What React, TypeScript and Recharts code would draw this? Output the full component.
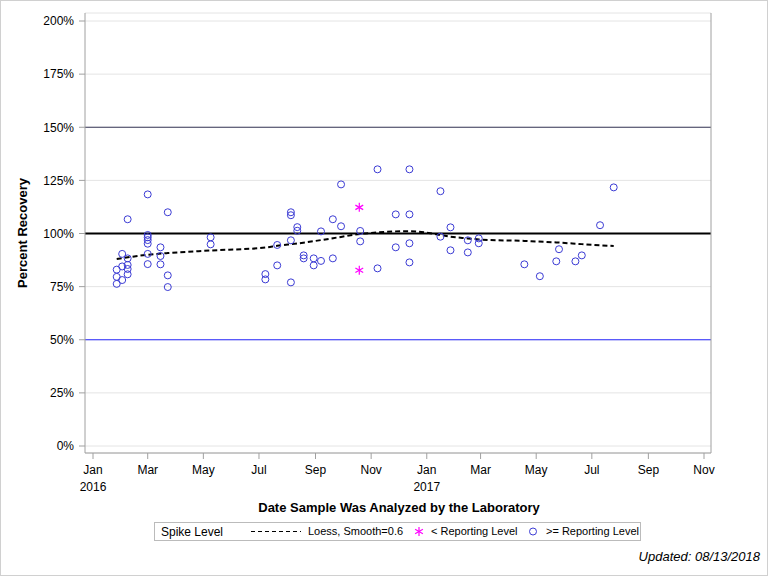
import {
  ComposedChart,
  Scatter,
  Line,
  XAxis,
  YAxis,
  CartesianGrid,
  ReferenceLine,
} from 'recharts';

const FONT = '"Liberation Sans", Arial, sans-serif';
const DAY_MS = 86400000;
const ORIGIN = Date.UTC(2016, 0, 1);

// days since 2016-01-01
const toDay = (iso: string) => (Date.parse(iso) - ORIGIN) / DAY_MS;

const tickDates = [
  '2016-01-01', '2016-03-01', '2016-05-01', '2016-07-01', '2016-09-01', '2016-11-01',
  '2017-01-01', '2017-03-01', '2017-05-01', '2017-07-01', '2017-09-01', '2017-11-01',
];
const monthLabels = ['Jan', 'Mar', 'May', 'Jul', 'Sep', 'Nov', 'Jan', 'Mar', 'May', 'Jul', 'Sep', 'Nov'];
const yearLabels = ['2016', '', '', '', '', '', '2017', '', '', '', '', ''];
const recoveryTicks = [0, 25, 50, 75, 100, 125, 150, 175, 200];

// >= reporting level samples
const aboveDates = [
  '2016-01-27', '2016-01-27', '2016-01-27',
  '2016-02-02', '2016-02-02', '2016-02-02',
  '2016-02-08', '2016-02-08', '2016-02-08', '2016-02-08', '2016-02-08',
  '2016-03-01', '2016-03-01', '2016-03-01', '2016-03-01', '2016-03-01', '2016-03-01', '2016-03-01',
  '2016-03-15', '2016-03-15', '2016-03-15',
  '2016-03-23', '2016-03-23', '2016-03-23',
  '2016-05-09', '2016-05-09',
  '2016-07-08', '2016-07-08',
  '2016-07-21', '2016-07-21',
  '2016-08-05', '2016-08-05', '2016-08-05', '2016-08-05',
  '2016-08-12', '2016-08-12',
  '2016-08-19', '2016-08-19',
  '2016-08-30', '2016-08-30',
  '2016-09-07', '2016-09-07',
  '2016-09-20', '2016-09-20',
  '2016-09-29', '2016-09-29',
  '2016-10-20', '2016-10-20',
  '2016-11-08', '2016-11-08',
  '2016-11-28', '2016-11-28',
  '2016-12-13', '2016-12-13', '2016-12-13', '2016-12-13',
  '2017-01-16', '2017-01-16',
  '2017-01-27', '2017-01-27',
  '2017-02-15', '2017-02-15',
  '2017-02-27', '2017-02-27',
  '2017-04-18', '2017-05-05', '2017-05-23', '2017-05-26', '2017-06-13', '2017-06-20',
  '2017-07-10', '2017-07-25',
];
const aboveRecovery = [
  83.0, 79.6, 76.3,
  90.4, 84.5, 78.1,
  106.7, 88.3, 85.2, 83.3, 80.8,
  118.4, 99.3, 98.2, 96.9, 95.2, 90.4, 85.6,
  93.5, 89.4, 85.5,
  110.0, 80.3, 74.8,
  98.2, 94.9,
  80.9, 78.4,
  94.6, 85.0,
  110.0, 108.6, 96.8, 77.0,
  103.0, 101.3,
  89.7, 88.3,
  88.3, 85.0,
  101.0, 87.1,
  106.7, 88.3,
  123.1, 103.4,
  101.2, 96.3,
  130.2, 83.6,
  109.0, 93.5,
  130.2, 109.0, 95.4, 86.4,
  119.9, 98.5,
  102.9, 92.1,
  96.8, 91.1,
  97.7, 95.4,
  85.5, 79.9, 86.9, 92.6, 86.9, 89.7,
  103.9, 121.7,
];

// < reporting level samples
const belowDates = ['2016-10-19', '2016-10-19'];
const belowRecovery = [112.3, 82.7];

// loess fit, smooth = 0.6
const loessDates = [
  '2016-01-27', '2016-03-01', '2016-03-23', '2016-05-09', '2016-07-08', '2016-07-21',
  '2016-08-12', '2016-09-07', '2016-09-29', '2016-10-20', '2016-11-08', '2016-11-28',
  '2016-12-13', '2017-01-16', '2017-01-27', '2017-02-15', '2017-02-27', '2017-04-18',
  '2017-05-23', '2017-06-20', '2017-07-25',
];
const loessRecovery = [
  88.0, 90.0, 90.8, 92.0, 93.4, 94.2,
  95.3, 96.9, 98.4, 99.8, 100.5, 101.0,
  101.1, 99.3, 98.5, 97.7, 97.2, 96.5,
  95.8, 95.0, 94.1,
];

const aboveData = aboveDates.map((d, i) => ({ x: toDay(d), y: aboveRecovery[i] }));
const belowData = belowDates.map((d, i) => ({ x: toDay(d), y: belowRecovery[i] }));
const loessData = loessDates.map((d, i) => ({ x: toDay(d), y: loessRecovery[i] }));
const tickDays = tickDates.map(toDay);
const xDomain = [tickDays[0], tickDays[tickDays.length - 1]];

const CIRCLE_COLOR = '#3b3bd4';
const STAR_COLOR = '#ff00ff';
const FRAME = '#a0a0a0';

const OpenCircle = (props: any) => (
  <circle cx={props.cx} cy={props.cy} r={3.5} fill="none" stroke={CIRCLE_COLOR} strokeWidth={1} />
);

const Asterisk = (props: any) => {
  const { cx, cy } = props;
  const r = 4.5;
  const dx = r * Math.cos(Math.PI / 6);
  const dy = r * Math.sin(Math.PI / 6);
  return (
    <g stroke={STAR_COLOR} strokeWidth={1.2}>
      <line x1={cx} y1={cy - r} x2={cx} y2={cy + r} />
      <line x1={cx - dx} y1={cy - dy} x2={cx + dx} y2={cy + dy} />
      <line x1={cx - dx} y1={cy + dy} x2={cx + dx} y2={cy - dy} />
    </g>
  );
};

const MonthTick = (props: any) => {
  const { x, y, payload } = props;
  const i = tickDays.indexOf(payload.value);
  return (
    <g transform={`translate(${x},${y})`}>
      <text dy={13} textAnchor="middle" fontSize={12} fill="#000" fontFamily={FONT}>
        {monthLabels[i]}
      </text>
      {yearLabels[i] && (
        <text dy={30} textAnchor="middle" fontSize={12} fill="#000" fontFamily={FONT}>
          {yearLabels[i]}
        </text>
      )}
    </g>
  );
};

const pct = (v: number) => `${v}%`;

const App = () => {
  return (
    <div
      style={{
        position: 'absolute',
        left: 0,
        top: 0,
        width: 768,
        height: 576,
        background: '#fff',
        fontFamily: FONT,
      }}
    >
      <ComposedChart width={768} height={576} margin={{ top: 13, right: 0, bottom: 0, left: 0 }}>
        <CartesianGrid horizontal vertical={false} stroke="#e4e4e4" />
        <XAxis
          dataKey="x"
          type="number"
          domain={xDomain}
          ticks={tickDays}
          interval={0}
          height={123}
          padding={{ left: 8, right: 7 }}
          tick={<MonthTick />}
          tickSize={6}
          axisLine={{ stroke: FRAME }}
          tickLine={{ stroke: FRAME }}
        />
        <XAxis
          xAxisId="top"
          orientation="top"
          type="number"
          domain={xDomain}
          height={0}
          padding={{ left: 8, right: 7 }}
          tick={false}
          tickLine={false}
          axisLine={{ stroke: FRAME }}
        />
        <YAxis
          dataKey="y"
          type="number"
          domain={[0, 200]}
          ticks={recoveryTicks}
          interval={0}
          width={85}
          padding={{ top: 8, bottom: 7 }}
          tickFormatter={pct}
          tick={{ fill: '#000', fontSize: 12, fontFamily: FONT }}
          tickSize={6}
          tickMargin={5}
          axisLine={{ stroke: FRAME }}
          tickLine={{ stroke: FRAME }}
        />
        <YAxis
          yAxisId="right"
          orientation="right"
          type="number"
          domain={[0, 200]}
          ticks={recoveryTicks}
          interval={0}
          width={57}
          padding={{ top: 8, bottom: 7 }}
          tickFormatter={pct}
          tick={{ fill: '#000', fontSize: 12, fontFamily: FONT, textAnchor: 'start' }}
          tickSize={6}
          tickMargin={3}
          axisLine={{ stroke: FRAME }}
          tickLine={{ stroke: FRAME }}
        />

        <ReferenceLine y={150} stroke="#3a3a5a" strokeWidth={1} />
        <ReferenceLine y={100} stroke="#000" strokeWidth={2} />
        <ReferenceLine y={50} stroke="#2a2aff" strokeWidth={1} />

        <Line
          data={loessData}
          dataKey="y"
          type="monotone"
          stroke="#000"
          strokeWidth={2}
          strokeDasharray="5 3"
          dot={false}
          activeDot={false}
          isAnimationActive={false}
        />
        <Scatter data={belowData} shape={<Asterisk />} isAnimationActive={false} />
        <Scatter data={aboveData} shape={<OpenCircle />} isAnimationActive={false} />
      </ComposedChart>

      {/* axis titles */}
      <div
        style={{
          position: 'absolute',
          left: 22,
          top: 233,
          transform: 'translate(-50%, -50%) rotate(-90deg)',
          fontSize: 13,
          fontWeight: 'bold',
          whiteSpace: 'nowrap',
          color: '#000',
        }}
      >
        Percent Recovery
      </div>
      <div
        style={{
          position: 'absolute',
          left: 0,
          width: 798,
          top: 500,
          textAlign: 'center',
          fontSize: 13,
          fontWeight: 'bold',
          color: '#000',
        }}
      >
        Date Sample Was Analyzed by the Laboratory
      </div>

      {/* legend */}
      <div
        style={{
          position: 'absolute',
          left: 154,
          top: 522,
          width: 487,
          height: 19,
          border: '1px solid #bbb',
          boxSizing: 'border-box',
          fontSize: 11,
          color: '#000',
          whiteSpace: 'nowrap',
        }}
      >
        <span style={{ position: 'absolute', left: 6, top: 2, fontSize: 12 }}>Spike Level</span>
        <svg style={{ position: 'absolute', left: 96, top: 0 }} width={50} height={17}>
          <line x1={0} y1={8.5} x2={50} y2={8.5} stroke="#000" strokeWidth={1} strokeDasharray="4 3" />
        </svg>
        <span style={{ position: 'absolute', left: 153, top: 2 }}>Loess, Smooth=0.6</span>
        <svg style={{ position: 'absolute', left: 258, top: 0 }} width={12} height={17}>
          <Asterisk cx={6} cy={8.5} />
        </svg>
        <span style={{ position: 'absolute', left: 276, top: 2 }}>&lt; Reporting Level</span>
        <svg style={{ position: 'absolute', left: 372, top: 0 }} width={12} height={17}>
          <OpenCircle cx={6} cy={8.5} />
        </svg>
        <span style={{ position: 'absolute', left: 391, top: 2 }}>&gt;= Reporting Level</span>
      </div>

      <div
        style={{
          position: 'absolute',
          right: 8,
          top: 549,
          fontSize: 13,
          fontStyle: 'italic',
          color: '#000',
        }}
      >
        Updated: 08/13/2018
      </div>

      <div
        style={{
          position: 'absolute',
          inset: 0,
          border: '1px solid #d0d0d0',
          boxSizing: 'border-box',
          pointerEvents: 'none',
        }}
      />
    </div>
  );
};

export default App;
